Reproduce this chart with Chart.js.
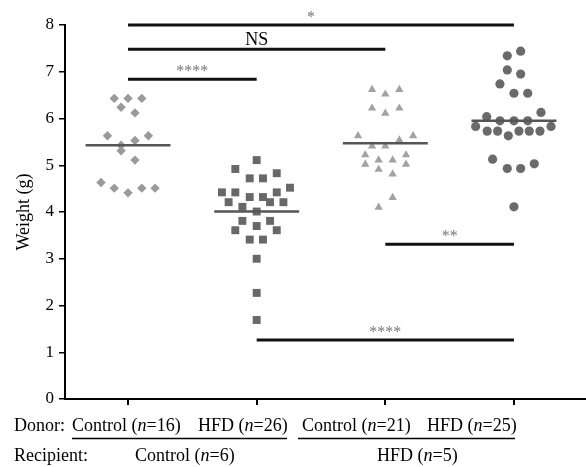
<!DOCTYPE html>
<html>
<head>
<meta charset="utf-8">
<script src="https://cdn.jsdelivr.net/npm/chart.js@4.4.1/dist/chart.umd.min.js"></script>
<style>
  html, body { margin: 0; padding: 0; background: #fff; }
  #wrap { width: 586px; height: 467px; position: relative; }
</style>
</head>
<body>
<div id="wrap"><canvas id="weightChart"></canvas></div>
<script>
// group positions on the x axis (donor -> recipient)
const groups = [1, 2, 3, 4];

// Control donor -> Control recipient (diamonds)
const ctrlCtrlWeights = [6.43, 6.43, 6.43, 6.24, 6.12, 5.63, 5.53, 5.63, 5.43, 5.31, 5.11, 4.63, 4.51, 4.41, 4.51, 4.51];
const ctrlCtrlSpread  = [-0.107, 0, 0.107, -0.054, 0.054, -0.16, 0.054, 0.158, -0.054, -0.054, 0.054, -0.21, -0.107, 0, 0.107, 0.21];

// HFD donor -> Control recipient (squares)
const hfdCtrlWeights = [5.11, 4.92, 4.72, 4.72, 4.83, 4.52, 4.42, 4.42, 4.32, 4.32, 4.42, 4.21, 4.21, 4.21, 4.11, 4.01, 3.81, 3.81, 3.70, 3.61, 3.61, 3.41, 3.41, 3.00, 2.27, 1.69];
const hfdCtrlSpread  = [0, -0.166, -0.054, 0.049, 0.156, 0.259, -0.27, -0.166, -0.054, 0.049, 0.156, -0.218, 0.104, 0.208, -0.111, 0, -0.111, 0.104, 0, -0.166, 0.156, -0.054, 0.049, 0, 0, 0];

// Control donor -> HFD recipient (triangles)
const ctrlHfdWeights = [6.62, 6.52, 6.62, 6.22, 6.11, 6.22, 5.63, 5.54, 5.63, 5.41, 5.41, 5.22, 5.22, 5.02, 5.11, 5.11, 5.02, 4.91, 4.81, 4.31, 4.10];
const ctrlHfdSpread  = [-0.103, 0, 0.109, -0.103, 0, 0.109, -0.212, 0.109, 0.216, -0.103, 0, -0.156, 0.161, -0.156, -0.052, 0.057, 0.161, -0.052, 0.057, 0.057, -0.052];

// HFD donor -> HFD recipient (circles)
const hfdHfdWeights = [7.34, 7.44, 7.04, 6.95, 6.74, 6.54, 6.54, 6.13, 6.04, 5.95, 5.95, 5.95, 5.83, 5.83, 5.73, 5.73, 5.73, 5.73, 5.73, 5.63, 5.13, 4.93, 4.93, 5.03, 4.11];
const hfdHfdSpread  = [-0.052, 0.052, -0.052, 0.052, -0.109, 0, 0.107, 0.21, -0.212, -0.109, 0, 0.107, -0.298, 0.288, -0.208, -0.127, 0.039, 0.119, 0.202, -0.044, -0.166, -0.052, 0.052, 0.158, 0];

// group means (horizontal bars)
const groupMeans = [5.43, 4.01, 5.47, 5.95];

// significance brackets
const bracketFrom  = [1, 1, 1, 3, 2];
const bracketTo    = [4, 3, 2, 4, 4];
const bracketLevel = [8.0, 7.48, 6.84, 3.31, 1.26];
const bracketText  = ['*', 'NS', '****', '**', '****'];

const yTicks = [0, 1, 2, 3, 4, 5, 6, 7, 8];

const SERIF = '"Liberation Serif", "Times New Roman", serif';

function toPoints(weights, spread, g) {
    return weights.map((w, i) => ({ x: g + spread[i], y: w }));
}

const scatterSets = [
    { data: toPoints(ctrlCtrlWeights, ctrlCtrlSpread, groups[0]), pointStyle: 'rectRot', pointRadius: 4.7, color: '#9a9a9a' },
    { data: toPoints(hfdCtrlWeights, hfdCtrlSpread, groups[1]), pointStyle: 'rect', pointRadius: 5.6, color: '#686868' },
    { data: toPoints(ctrlHfdWeights, ctrlHfdSpread, groups[2]), pointStyle: 'triangle', pointRadius: 4.8, color: '#a2a2a2' },
    { data: toPoints(hfdHfdWeights, hfdHfdSpread, groups[3]), pointStyle: 'circle', pointRadius: 4.6, color: '#6a6a6a' }
].map(s => ({
    type: 'scatter',
    data: s.data,
    pointStyle: s.pointStyle,
    pointRadius: s.pointRadius,
    pointBackgroundColor: s.color,
    pointBorderColor: s.color,
    pointBorderWidth: 0,
    order: 2
}));

const meanSets = groupMeans.map((m, i) => ({
    type: 'line',
    data: [{ x: groups[i] - 0.33, y: m }, { x: groups[i] + 0.33, y: m }],
    borderColor: '#555',
    borderWidth: 2.5,
    pointRadius: 0,
    order: 1
}));

function drawRich(ctx, x, y, parts) {
    let cx = x;
    parts.forEach(([txt, italic]) => {
        ctx.font = (italic ? 'italic ' : '') + '18px ' + SERIF;
        ctx.fillText(txt, cx, y);
        cx += ctx.measureText(txt).width;
    });
}

const annotations = {
    id: 'annotations',
    afterDraw(chart) {
        const ctx = chart.ctx;
        const xs = chart.scales.x;
        const ys = chart.scales.y;
        ctx.save();

        // brackets
        bracketFrom.forEach((from, i) => {
            const x1 = xs.getPixelForValue(from);
            const x2 = xs.getPixelForValue(bracketTo[i]);
            const y = ys.getPixelForValue(bracketLevel[i]);
            ctx.strokeStyle = '#111';
            ctx.lineWidth = 3;
            ctx.beginPath();
            ctx.moveTo(x1, y);
            ctx.lineTo(x2, y);
            ctx.stroke();

            ctx.textAlign = 'center';
            ctx.textBaseline = 'alphabetic';
            const mid = (x1 + x2) / 2;
            if (bracketText[i] === 'NS') {
                ctx.fillStyle = '#000';
                ctx.font = '18px ' + SERIF;
                ctx.fillText(bracketText[i], mid, y - 4);
            } else {
                ctx.fillStyle = '#777';
                ctx.font = '16px ' + SERIF;
                ctx.fillText(bracketText[i], i === 0 ? mid - 10 : mid, y - 3);
            }
        });

        // group labels under the x axis
        ctx.fillStyle = '#000';
        ctx.textAlign = 'left';
        ctx.textBaseline = 'alphabetic';
        drawRich(ctx, 14, 431, [['Donor:', false]]);
        drawRich(ctx, 72, 431, [['Control (', false], ['n', true], ['=16)', false]]);
        drawRich(ctx, 198, 431, [['HFD (', false], ['n', true], ['=26)', false]]);
        drawRich(ctx, 302, 431, [['Control (', false], ['n', true], ['=21)', false]]);
        drawRich(ctx, 427, 431, [['HFD (', false], ['n', true], ['=25)', false]]);

        ctx.strokeStyle = '#000';
        ctx.lineWidth = 1.5;
        ctx.beginPath();
        ctx.moveTo(72, 438.5); ctx.lineTo(287, 438.5);
        ctx.moveTo(298, 438.5); ctx.lineTo(515, 438.5);
        ctx.stroke();

        drawRich(ctx, 14, 461, [['Recipient:', false]]);
        drawRich(ctx, 135, 461, [['Control (', false], ['n', true], ['=6)', false]]);
        drawRich(ctx, 377, 461, [['HFD (', false], ['n', true], ['=5)', false]]);

        ctx.restore();
    }
};

new Chart(document.getElementById('weightChart'), {
    type: 'scatter',
    data: { datasets: [...scatterSets, ...meanSets] },
    plugins: [annotations],
    options: {
        responsive: true,
        maintainAspectRatio: false,
        animation: false,
        layout: { autoPadding: false, padding: { top: 25, right: 0, left: 0, bottom: 0 } },
        plugins: {
            legend: { display: false },
            tooltip: { enabled: false }
        },
        scales: {
            x: {
                type: 'linear',
                min: 0.51,
                max: 4.56,
                afterBuildTicks: scale => { scale.ticks = groups.map(v => ({ value: v })); },
                afterFit: scale => { scale.height = 68; },
                ticks: { display: false },
                grid: { drawOnChartArea: false, drawTicks: true, tickLength: 6, color: '#000', lineWidth: 2 },
                border: { display: true, color: '#000', width: 2 }
            },
            y: {
                type: 'linear',
                min: 0,
                max: 8,
                afterBuildTicks: scale => { scale.ticks = yTicks.map(v => ({ value: v })); },
                afterFit: scale => { scale.width = 65; },
                ticks: {
                    color: '#000',
                    padding: 5,
                    font: { family: SERIF, size: 17 }
                },
                grid: { drawOnChartArea: false, drawTicks: true, tickLength: 6, color: '#000', lineWidth: 1.5 },
                border: { display: true, color: '#000', width: 2 },
                title: {
                    display: true,
                    text: 'Weight (g)',
                    color: '#000',
                    font: { family: SERIF, size: 18 },
                    padding: { top: 13, bottom: 0 }
                }
            }
        }
    }
});
</script>
</body>
</html>
